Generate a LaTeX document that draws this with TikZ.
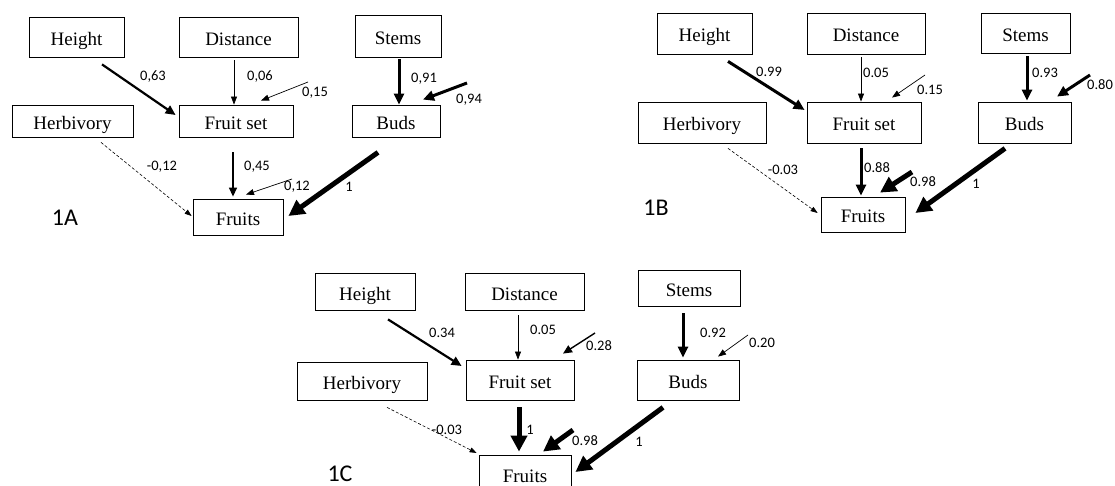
\documentclass[tikz,border=0pt]{standalone}
\usepackage{fontspec}
\setmainfont{Liberation Serif}
\newfontfamily\lblfamily{Carlito}
\usetikzlibrary{arrows.meta}

\begin{document}
\begin{tikzpicture}[x=1pt, y=-1pt,
    box/.style={draw, line width=0.8pt, inner sep=0pt,
                text height=17pt, text depth=0pt,
                font=\fontsize{19}{20}\selectfont},
    lbl/.style={inner sep=0pt, font=\lblfamily\fontsize{14.5}{15}\selectfont},
    tag/.style={inner sep=0pt, font=\lblfamily\fontsize{24}{24}\selectfont},
    wthin/.style={line width=0.7pt, -{Triangle[length=8pt, width=6pt]}},
    wmed/.style={line width=1.4pt, -{Triangle[length=9pt, width=8pt]}},
    wthick/.style={line width=2.2pt, -{Triangle[length=10pt, width=9pt]}},
    wheavy/.style={line width=3pt, -{Triangle[length=11pt, width=10pt]}},
    wfat/.style={line width=5pt, -{Triangle[length=16pt, width=16pt]}},
    wdash/.style={line width=0.6pt, dash pattern=on 3pt off 2pt,
                  -{Triangle[length=7pt, width=5pt]}}]
  \useasboundingbox (0,0) rectangle (1115,486);

  % 1A
  \node[box, minimum width=95pt, minimum height=40pt] (h1) at (76.5,37) {Height};
  \node[box, minimum width=119pt, minimum height=40pt] (d1) at (238.5,37) {Distance};
  \node[box, minimum width=86pt, minimum height=42pt] (s1) at (398,36) {Stems};
  \node[box, minimum width=121pt, minimum height=32pt] (hb1) at (72.5,121) {Herbivory};
  \node[box, minimum width=114pt, minimum height=32pt] (fs1) at (236,121) {Fruit set};
  \node[box, minimum width=88pt, minimum height=32pt] (b1) at (396,121) {Buds};
  \node[box, minimum width=90pt, minimum height=36pt] (f1) at (238,217) {Fruits};
  \node[tag] (t1) at (65,218) {1A};
  \coordinate (e1a) at (308,82);
  \coordinate (e1b) at (467,83);
  \coordinate (e1c) at (292,179);

  \draw[wthick] ([shift={(25.5,7)}]h1.south) -- ([shift={(-3,-6)}]fs1.west);
  \draw[wthin] ([shift={(-4.5,3)}]d1.south) -- ([shift={(-2,0)}]fs1.north);
  \draw[wthin] (e1a) -- ([shift={(25,-4)}]fs1.north);
  \draw[wheavy] ([shift={(1,2)}]s1.south) -- ([shift={(3,0)}]b1.north);
  \draw[wheavy] (e1b) -- ([shift={(27,-5)}]b1.north);
  \draw[wmed] ([shift={(-3,15)}]fs1.south) -- ([shift={(-5,-2)}]f1.north);
  \draw[wthin] (e1c) -- ([shift={(8,-4)}]f1.north);
  \draw[wfat] ([shift={(-18,15)}]b1.south) -- ([shift={(5,-1)}]f1.east);
  \draw[wdash] ([shift={(28.5,5)}]hb1.south) -- ([shift={(-1,-1)}]f1.west);

  \node[lbl] (l1a) at (153,77) {0,63};
  \node[lbl] (l1b) at (260,77) {0,06};
  \node[lbl] (l1c) at (315,93) {0,15};
  \node[lbl] (l1d) at (424,79) {0,91};
  \node[lbl] (l1e) at (469,100) {0,94};
  \node[lbl] (l1f) at (257,167) {0,45};
  \node[lbl] (l1g) at (297,187) {0,12};
  \node[lbl] (l1h) at (349,187) {1};
  \node[lbl] (l1i) at (162,167) {-0,12};

  % 1B
  \node[box, minimum width=95pt, minimum height=41pt] (h2) at (704.5,33.5) {Height};
  \node[box, minimum width=118pt, minimum height=41pt] (d2) at (866,33.5) {Distance};
  \node[box, minimum width=89pt, minimum height=40pt] (s2) at (1025.5,33) {Stems};
  \node[box, minimum width=128pt, minimum height=41pt] (hb2) at (702,122.5) {Herbivory};
  \node[box, minimum width=114pt, minimum height=41pt] (fs2) at (864,122.5) {Fruit set};
  \node[box, minimum width=93pt, minimum height=41pt] (b2) at (1024.5,122.5) {Buds};
  \node[box, minimum width=84pt, minimum height=35pt] (f2) at (863,214.5) {Fruits};
  \node[tag] (t2) at (656,208) {1B};
  \coordinate (e2a) at (925,75);
  \coordinate (e2b) at (1090,75);
  \coordinate (e2c) at (912,172);

  \draw[wheavy] ([shift={(23.5,7)}]h2.south) -- ([shift={(-2,-12.5)}]fs2.west);
  \draw[wthin] ([shift={(-5,3)}]d2.south) -- ([shift={(-3,0)}]fs2.north);
  \draw[wthin] (e2a) -- ([shift={(28,-4)}]fs2.north);
  \draw[wheavy] ([shift={(1.5,3)}]s2.south) -- ([shift={(2.5,-1)}]b2.north);
  \draw[wheavy] (e2b) -- ([shift={(32.5,-5)}]b2.north);
  \draw[wheavy] ([shift={(-3,5)}]fs2.south) -- ([shift={(-2,-1)}]f2.north);
  \draw[wfat] (e2c) -- ([shift={(17,-4)}]f2.north);
  \draw[wfat] ([shift={(-19.5,5)}]b2.south) -- ([shift={(10,-1.5)}]f2.east);
  \draw[wdash] ([shift={(26,5)}]hb2.south) -- ([shift={(-3,-1.5)}]f2.west);

  \node[lbl] (l2a) at (769,72) {0.99};
  \node[lbl] (l2b) at (876,73) {0.05};
  \node[lbl] (l2c) at (930,90) {0.15};
  \node[lbl] (l2d) at (1045,73) {0.93};
  \node[lbl] (l2e) at (1100,85) {0.80};
  \node[lbl] (l2f) at (877,168) {0.88};
  \node[lbl] (l2g) at (923,182) {0.98};
  \node[lbl] (l2h) at (976,184) {1};
  \node[lbl] (l2i) at (783,170) {-0.03};

  % 1C
  \node[box, minimum width=100pt, minimum height=37pt] (h3) at (365,291.5) {Height};
  \node[box, minimum width=119pt, minimum height=37pt] (d3) at (524.5,291.5) {Distance};
  \node[box, minimum width=102pt, minimum height=36pt] (s3) at (689,288) {Stems};
  \node[box, minimum width=130pt, minimum height=38pt] (hb3) at (362,381) {Herbivory};
  \node[box, minimum width=108pt, minimum height=40pt] (fs3) at (520,380) {Fruit set};
  \node[box, minimum width=102pt, minimum height=40pt] (b3) at (688,380) {Buds};
  \node[box, minimum width=92pt, minimum height=37pt] (f3) at (525,473.5) {Fruits};
  \node[tag] (t3) at (340,474) {1C};
  \coordinate (e3a) at (595,333);
  \coordinate (e3b) at (748,335);
  \coordinate (e3c) at (573,430);

  \draw[wthick] ([shift={(23,9)}]h3.south) -- ([shift={(-4,-14)}]fs3.west);
  \draw[wthin] ([shift={(-6.5,5)}]d3.south) -- ([shift={(-2,0)}]fs3.north);
  \draw[wmed] (e3a) -- ([shift={(43,-6)}]fs3.north);
  \draw[wheavy] ([shift={(-6,7)}]s3.south) -- ([shift={(-5,-2)}]b3.north);
  \draw[wthin] (e3b) -- ([shift={(30,-3)}]b3.north);
  \draw[wfat] ([shift={(-1,7)}]fs3.south) -- ([shift={(-6,-3)}]f3.north);
  \draw[wfat] (e3c) -- ([shift={(18,-3)}]f3.north);
  \draw[wfat] ([shift={(-25,7)}]b3.south) -- ([shift={(4,-1.5)}]f3.east);
  \draw[wdash] ([shift={(25,7)}]hb3.south) -- ([shift={(-2,-20.5)}]f3.west);

  \node[lbl] (l3a) at (442,333) {0.34};
  \node[lbl] (l3b) at (543,330) {0.05};
  \node[lbl] (l3c) at (599,346) {0.28};
  \node[lbl] (l3d) at (713,333) {0.92};
  \node[lbl] (l3e) at (762,343) {0.20};
  \node[lbl] (l3f) at (530,430) {1};
  \node[lbl] (l3g) at (585,441) {0.98};
  \node[lbl] (l3h) at (639,442) {1};
  \node[lbl] (l3i) at (447,430) {-0.03};
\end{tikzpicture}
\end{document}
